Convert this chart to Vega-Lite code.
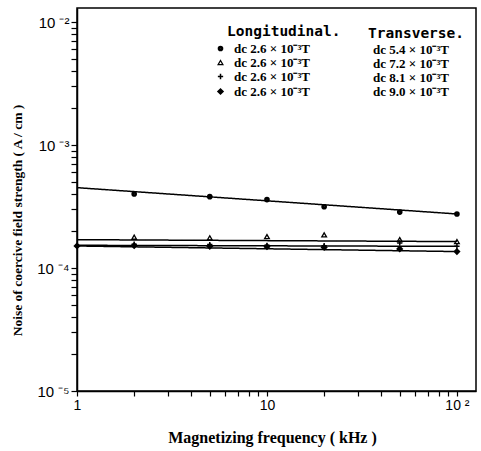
{
  "$schema": "https://vega.github.io/schema/vega-lite/v6.json",
  "width": 399,
  "height": 383,
  "autosize": {"type": "none"},
  "padding": {"left": 77, "top": 8, "right": 5, "bottom": 60},
  "background": "white",
  "title": {
    "text": "Longitudinal.",
    "anchor": "start",
    "frame": "group",
    "orient": "top",
    "offset": 0,
    "dx": 150,
    "dy": 38,
    "baseline": "middle",
    "font": "DejaVu Sans Mono",
    "fontSize": 14.5,
    "fontWeight": "bold",
    "color": "black"
  },
  "config": {
    "view": {"stroke": "black", "strokeWidth": 1.5},
    "font": "Liberation Serif",
    "legend": {"padding": 0}
  },
  "datasets": {
    "fits": [
      {"f": 1, "v": 0.00045, "trans": "dc 5.4 × 10⁻³T"},
      {"f": 100, "v": 0.000275, "trans": "dc 5.4 × 10⁻³T"},
      {"f": 1, "v": 0.00017, "trans": "dc 7.2 × 10⁻³T"},
      {"f": 100, "v": 0.000164, "trans": "dc 7.2 × 10⁻³T"},
      {"f": 1, "v": 0.000153, "trans": "dc 8.1 × 10⁻³T"},
      {"f": 100, "v": 0.00015, "trans": "dc 8.1 × 10⁻³T"},
      {"f": 1, "v": 0.000151, "trans": "dc 9.0 × 10⁻³T"},
      {"f": 100, "v": 0.000136, "trans": "dc 9.0 × 10⁻³T"}
    ],
    "points": [
      {"f": 2, "v": 0.0004, "series": "L1"},
      {"f": 5, "v": 0.00038, "series": "L1"},
      {"f": 10, "v": 0.00036, "series": "L1"},
      {"f": 20, "v": 0.000315, "series": "L1"},
      {"f": 50, "v": 0.000285, "series": "L1"},
      {"f": 100, "v": 0.000275, "series": "L1"},
      {"f": 2, "v": 0.000178, "series": "L2"},
      {"f": 5, "v": 0.000176, "series": "L2"},
      {"f": 10, "v": 0.00018, "series": "L2"},
      {"f": 20, "v": 0.000186, "series": "L2"},
      {"f": 50, "v": 0.00017, "series": "L2"},
      {"f": 100, "v": 0.000164, "series": "L2"},
      {"f": 2, "v": 0.000156, "series": "L3"},
      {"f": 5, "v": 0.000155, "series": "L3"},
      {"f": 10, "v": 0.000153, "series": "L3"},
      {"f": 20, "v": 0.000152, "series": "L3"},
      {"f": 50, "v": 0.00016, "series": "L3"},
      {"f": 100, "v": 0.00015, "series": "L3"},
      {"f": 1, "v": 0.000151, "series": "L4"},
      {"f": 2, "v": 0.000152, "series": "L4"},
      {"f": 5, "v": 0.00015, "series": "L4"},
      {"f": 10, "v": 0.000149, "series": "L4"},
      {"f": 20, "v": 0.000147, "series": "L4"},
      {"f": 50, "v": 0.000143, "series": "L4"},
      {"f": 100, "v": 0.000136, "series": "L4"}
    ]
  },
  "encoding": {
    "x": {
      "field": "f",
      "type": "quantitative",
      "scale": {"type": "log", "domain": [1, 126], "nice": false},
      "axis": {
        "labelExpr": "abs(datum.value - 1) < 1e-6 ? '1' : abs(datum.value - 10) < 1e-6 ? '10' : abs(datum.value - 100) < 1e-6 ? '10 ²' : ''",
        "labelOverlap": false,
        "labelFlush": false,
        "zindex": 1,
        "grid": false,
        "ticks": true,
        "domainColor": "black",
        "domainWidth": 1.5,
        "tickColor": "black",
        "tickWidth": 1.2,
        "tickSize": 5,
        "labelFont": "Liberation Sans",
        "labelFontSize": 14,
        "labelColor": "black",
        "labelPadding": 2,
        "title": "Magnetizing frequency ( kHz )",
        "titleFont": "Liberation Serif",
        "titleFontSize": 16,
        "titleFontWeight": "bold",
        "titleColor": "black",
        "titleX": 195,
        "titleY": 46,
        "titleAlign": "center",
        "titleBaseline": "middle"
      }
    },
    "y": {
      "field": "v",
      "type": "quantitative",
      "scale": {"type": "log", "domain": [0.00001, 0.013], "nice": false},
      "axis": {
        "labelExpr": "abs(datum.value / 0.01 - 1) < 1e-6 ? '10 ⁻²' : abs(datum.value / 0.001 - 1) < 1e-6 ? '10 ⁻³' : abs(datum.value / 0.0001 - 1) < 1e-6 ? '10 ⁻⁴' : abs(datum.value / 0.00001 - 1) < 1e-6 ? '10 ⁻⁵' : ''",
        "labelOverlap": false,
        "labelFlush": false,
        "zindex": 1,
        "grid": false,
        "ticks": true,
        "domainColor": "black",
        "domainWidth": 1.5,
        "tickColor": "black",
        "tickWidth": 1.2,
        "tickSize": 6,
        "labelFont": "Liberation Sans",
        "labelFontSize": 15,
        "labelColor": "black",
        "labelPadding": 2,
        "title": "Noise of coercive field strength ( A / cm )",
        "titleFont": "Liberation Serif",
        "titleFontSize": 13.5,
        "titleFontWeight": "bold",
        "titleColor": "black",
        "titleX": -60,
        "titleY": 212,
        "titleAngle": -90,
        "titleAlign": "center",
        "titleBaseline": "middle"
      }
    }
  },
  "layer": [
    {
      "data": {"name": "fits"},
      "mark": {"type": "line", "color": "black", "strokeWidth": 1.5},
      "encoding": {
        "detail": {"field": "trans", "type": "nominal"},
        "strokeDash": {
          "field": "trans",
          "type": "nominal",
          "scale": {"range": [[1, 0], [1, 0], [1, 0], [1, 0]]},
          "legend": {
            "title": "Transverse.",
            "orient": "none",
            "legendX": 291,
            "legendY": 19,
            "titleFont": "DejaVu Sans Mono",
            "titleFontSize": 14.5,
            "titleFontWeight": "bold",
            "titleColor": "black",
            "titlePadding": 2,
            "labelFont": "Liberation Serif",
            "labelFontSize": 13,
            "labelFontWeight": "bold",
            "labelColor": "black",
            "labelOffset": -8,
            "symbolType": "circle",
            "symbolSize": 1,
            "symbolOpacity": 0,
            "symbolStrokeWidth": 0,
            "rowPadding": 0
          }
        }
      }
    },
    {
      "data": {"name": "points"},
      "mark": {"type": "point", "filled": false, "color": "black", "opacity": 1},
      "encoding": {
        "shape": {
          "field": "series",
          "type": "nominal",
          "scale": {"domain": ["L1", "L2", "L3", "L4"], "range": ["circle", "triangle-up", "M-1,0L1,0M0,-1L0,1", "diamond"]},
          "legend": {
            "title": null,
            "orient": "none",
            "legendX": 137,
            "legendY": 34,
            "labelExpr": "'dc 2.6 × 10⁻³T'",
            "labelFont": "Liberation Serif",
            "labelFontSize": 13,
            "labelFontWeight": "bold",
            "labelColor": "black",
            "labelOffset": 7,
            "symbolStrokeColor": "black",
            "rowPadding": 0
          }
        },
        "size": {
          "field": "series",
          "type": "nominal",
          "scale": {"type": "ordinal", "domain": ["L1", "L2", "L3", "L4"], "range": [7, 22, 28, 9]},
          "legend": {
            "title": null,
            "orient": "none",
            "legendX": 137,
            "legendY": 34,
            "labelExpr": "'dc 2.6 × 10⁻³T'",
            "labelFont": "Liberation Serif",
            "labelFontSize": 13,
            "labelFontWeight": "bold",
            "labelColor": "black",
            "labelOffset": 7,
            "symbolStrokeColor": "black",
            "rowPadding": 0
          }
        },
        "strokeWidth": {
          "field": "series",
          "type": "nominal",
          "scale": {"type": "ordinal", "domain": ["L1", "L2", "L3", "L4"], "range": [3, 1.3, 1.5, 3]},
          "legend": {
            "title": null,
            "orient": "none",
            "legendX": 137,
            "legendY": 34,
            "labelExpr": "'dc 2.6 × 10⁻³T'",
            "labelFont": "Liberation Serif",
            "labelFontSize": 13,
            "labelFontWeight": "bold",
            "labelColor": "black",
            "labelOffset": 7,
            "symbolStrokeColor": "black",
            "rowPadding": 0
          }
        }
      }
    }
  ]
}
